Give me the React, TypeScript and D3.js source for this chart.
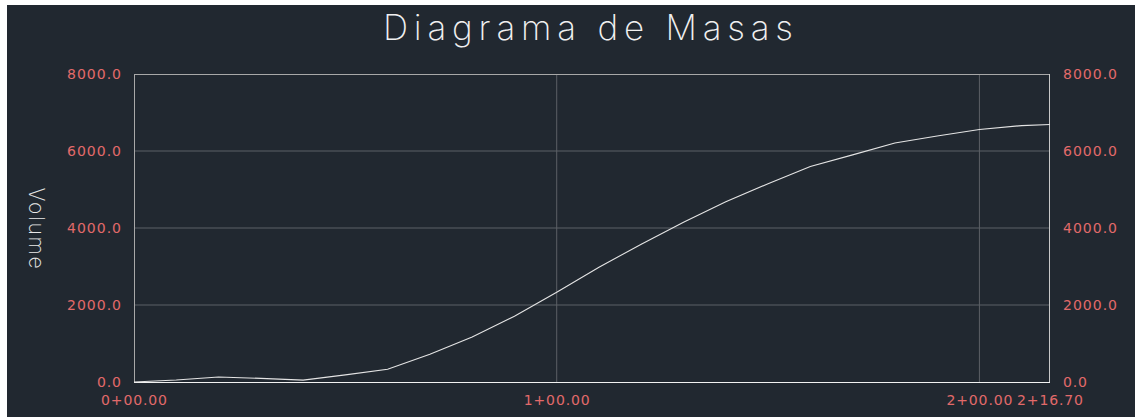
import * as d3 from 'd3';

// stations (m) and cumulative volume
const stations = [0, 10, 20, 30, 40, 50, 60, 70, 80, 90, 100, 110, 120, 130, 140, 150, 160, 170, 180, 190, 200, 210, 216.7];
const volumes = [0, 50, 130, 95, 50, 185, 330, 720, 1170, 1710, 2330, 2980, 3580, 4150, 4680, 5150, 5600, 5900, 6210, 6390, 6560, 6660, 6690];

const xTicks = [0, 100, 200, 216.7];
const xTickLabels = ['0+00.00', '1+00.00', '2+00.00', '2+16.70'];
const yTicks = [0, 2000, 4000, 6000, 8000];

const W = 1135;
const H = 417;
const margin = { top: 74, right: 85, bottom: 35, left: 134 };
const BG = '#212830';
const RED = '#e26a6a';

export default function App() {
  const x = d3
    .scaleLinear()
    .domain([0, 216.7])
    .range([margin.left, W - margin.right]);
  const y = d3
    .scaleLinear()
    .domain([0, 8000])
    .range([H - margin.bottom, margin.top]);

  const pts = stations.map((s, i) => [s, volumes[i]] as [number, number]);
  const line = d3
    .line<[number, number]>()
    .x((d) => x(d[0]))
    .y((d) => y(d[1]));

  const x0 = x(0);
  const x1 = x(216.7);
  const y0 = y(0);
  const y1 = y(8000);
  const fontTick = '"DejaVu Sans", sans-serif';

  return (
    <svg
      width={W}
      height={H}
      style={{ position: 'absolute', left: 0, top: 0, display: 'block' }}
    >
      <rect x={0} y={0} width={W} height={H} fill="#ffffff" />
      <rect x={7} y={5} width={W - 7} height={H - 5} fill={BG} />

      {/* title */}
      <text
        x={588}
        y={40}
        textAnchor="middle"
        fill="#f0f0f0"
        fontFamily="Inter, sans-serif"
        fontWeight={200}
        fontSize={35}
        textLength={410}
        lengthAdjust="spacing"
      >
        Diagrama de Masas
      </text>

      {/* grid */}
      {yTicks
        .filter((t) => t > 0 && t < 8000)
        .map((t) => (
          <line key={'gy' + t} x1={x0} x2={x1} y1={y(t)} y2={y(t)} stroke="#5c6066" strokeWidth={1} />
        ))}
      {xTicks
        .filter((t) => t > 0 && t < 216.7)
        .map((t) => (
          <line key={'gx' + t} x1={x(t)} x2={x(t)} y1={y1} y2={y0} stroke="#5c6066" strokeWidth={1} />
        ))}

      {/* frame */}
      <line x1={x0} x2={x1} y1={y1 + 0.5} y2={y1 + 0.5} stroke="#a8a8a8" />
      <line x1={x0 + 0.5} x2={x0 + 0.5} y1={y1} y2={y0} stroke="#a8a8a8" />
      <line x1={x1 - 0.5} x2={x1 - 0.5} y1={y1} y2={y0} stroke="#c8c8c8" />
      <line x1={x0} x2={x1} y1={y0 + 0.5} y2={y0 + 0.5} stroke="#f2f2f2" />

      {/* curve */}
      <path d={line(pts) ?? ''} fill="none" stroke="#e4e4e4" strokeWidth={1.1} />

      {/* y labels */}
      {yTicks.map((t) => (
        <g key={'yl' + t} fontFamily={fontTick} fontSize={14} fill={RED}>
          <text x={x0 - 13} y={y(t) + 5} textAnchor="end" textLength={t === 0 ? 24 : 54}>
            {t.toFixed(1)}
          </text>
          <text x={x1 + 13} y={y(t) + 5} textAnchor="start" textLength={t === 0 ? 24 : 54}>
            {t.toFixed(1)}
          </text>
        </g>
      ))}

      {/* x labels */}
      {xTicks.map((t, i) => (
        <text
          key={'xl' + t}
          x={x(t)}
          y={405}
          textAnchor="middle"
          fontFamily={fontTick}
          fontSize={14}
          fill={RED}
          textLength={66}
        >
          {xTickLabels[i]}
        </text>
      ))}

      {/* axis title */}
      <text
        transform={`translate(${29},${(y0 + y1) / 2}) rotate(90)`}
        textAnchor="middle"
        fill="#e8e8e8"
        fontFamily="Inter, sans-serif"
        fontWeight={200}
        fontSize={21}
        textLength={81}
      >
        Volume
      </text>
    </svg>
  );
}
